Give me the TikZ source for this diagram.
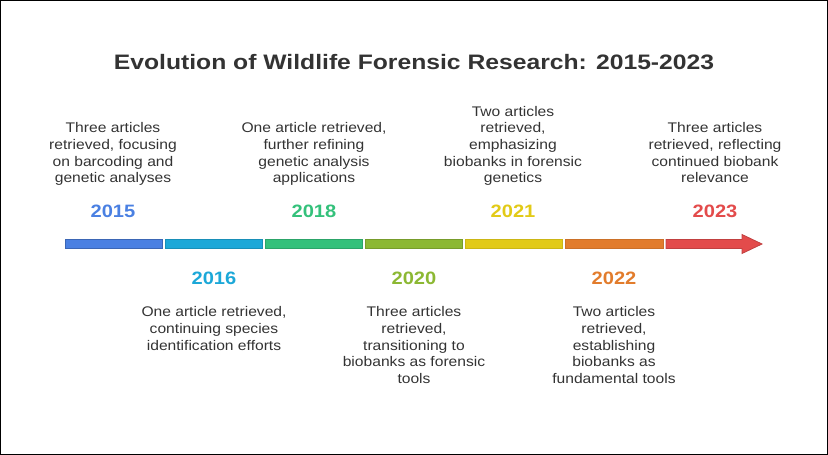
\documentclass[tikz,border=0pt]{standalone}
\usepackage{fontspec}
\setmainfont[FakeStretch=1.12]{Liberation Sans}
\newfontfamily\titlefont[FakeStretch=1.18]{Liberation Sans}
\definecolor{txtgray}{HTML}{333333}
\definecolor{c15}{HTML}{4A80E2}
\definecolor{c16}{HTML}{1CA8D8}
\definecolor{c18}{HTML}{34C17B}
\definecolor{c20}{HTML}{8CB833}
\definecolor{c21}{HTML}{E2CA17}
\definecolor{c22}{HTML}{E27C2C}
\definecolor{c23}{HTML}{E34B4B}
\tikzset{
  year/.style={font=\fontsize{18}{20}\selectfont\bfseries, inner sep=0pt},
  note/.style={font=\fontsize{14}{16.7}\selectfont, text=txtgray, align=center, inner sep=0pt},
  seg/.style={line width=0.8pt}
}
\begin{document}
\begin{tikzpicture}[x=1bp,y=-1bp]
  \useasboundingbox (0,0) rectangle (828,455);
  \draw[line width=1.5bp] (0.75,0.75) rectangle (827.25,454.25);
  \node[font=\titlefont\fontsize{21}{24}\selectfont\bfseries, text=txtgray] (title) at (414,62)
    {Evolution of Wildlife Forensic Research: 2015-2023};

  % timeline bar
  \filldraw[seg, fill=c15, draw=c15!80!black] (65,239.5) rectangle (162,248.5);
  \filldraw[seg, fill=c16, draw=c16!85!black] (165,239.5) rectangle (262,248.5);
  \filldraw[seg, fill=c18, draw=c18!85!black] (265,239.5) rectangle (362,248.5);
  \filldraw[seg, fill=c20, draw=c20!85!black] (365,239.5) rectangle (462,248.5);
  \filldraw[seg, fill=c21, draw=c21!90!black] (465,239.5) rectangle (562,248.5);
  \filldraw[seg, fill=c22, draw=c22!90!black] (565,239.5) rectangle (663,248.5);
  \filldraw[seg, fill=c23, draw=c23!85!black] (666,239.5) -- (742,239.5) -- (742,234.5)
    -- (762,244) -- (742,253.5) -- (742,248.5) -- (666,248.5) -- cycle;

  % years
  \node[year, text=c15] (y15) at (113,211) {2015};
  \node[year, text=c16] (y16) at (214,278) {2016};
  \node[year, text=c18] (y18) at (314,211) {2018};
  \node[year, text=c20] (y20) at (414,278) {2020};
  \node[year, text=c21] (y21) at (513,211) {2021};
  \node[year, text=c22] (y22) at (614,278) {2022};
  \node[year, text=c23] (y23) at (715,211) {2023};

  % notes above
  \node[note, anchor=south] (n15) at (113,188)
    {Three articles\\retrieved, focusing\\on barcoding and\\genetic analyses\strut};
  \node[note, anchor=south] (n18) at (314,188)
    {One article retrieved,\\further refining\\genetic analysis\\applications\strut};
  \node[note, anchor=south] (n21) at (513,188)
    {Two articles\\retrieved,\\emphasizing\\biobanks in forensic\\genetics\strut};
  \node[note, anchor=south] (n23) at (715,188)
    {Three articles\\retrieved, reflecting\\continued biobank\\relevance\strut};

  % notes below
  \node[note, anchor=north] (n16) at (214,305)
    {\strut One article retrieved,\\continuing species\\identification efforts};
  \node[note, anchor=north] (n20) at (414,305)
    {\strut Three articles\\retrieved,\\transitioning to\\biobanks as forensic\\tools};
  \node[note, anchor=north] (n22) at (614,305)
    {\strut Two articles\\retrieved,\\establishing\\biobanks as\\fundamental tools};
\end{tikzpicture}
\end{document}
